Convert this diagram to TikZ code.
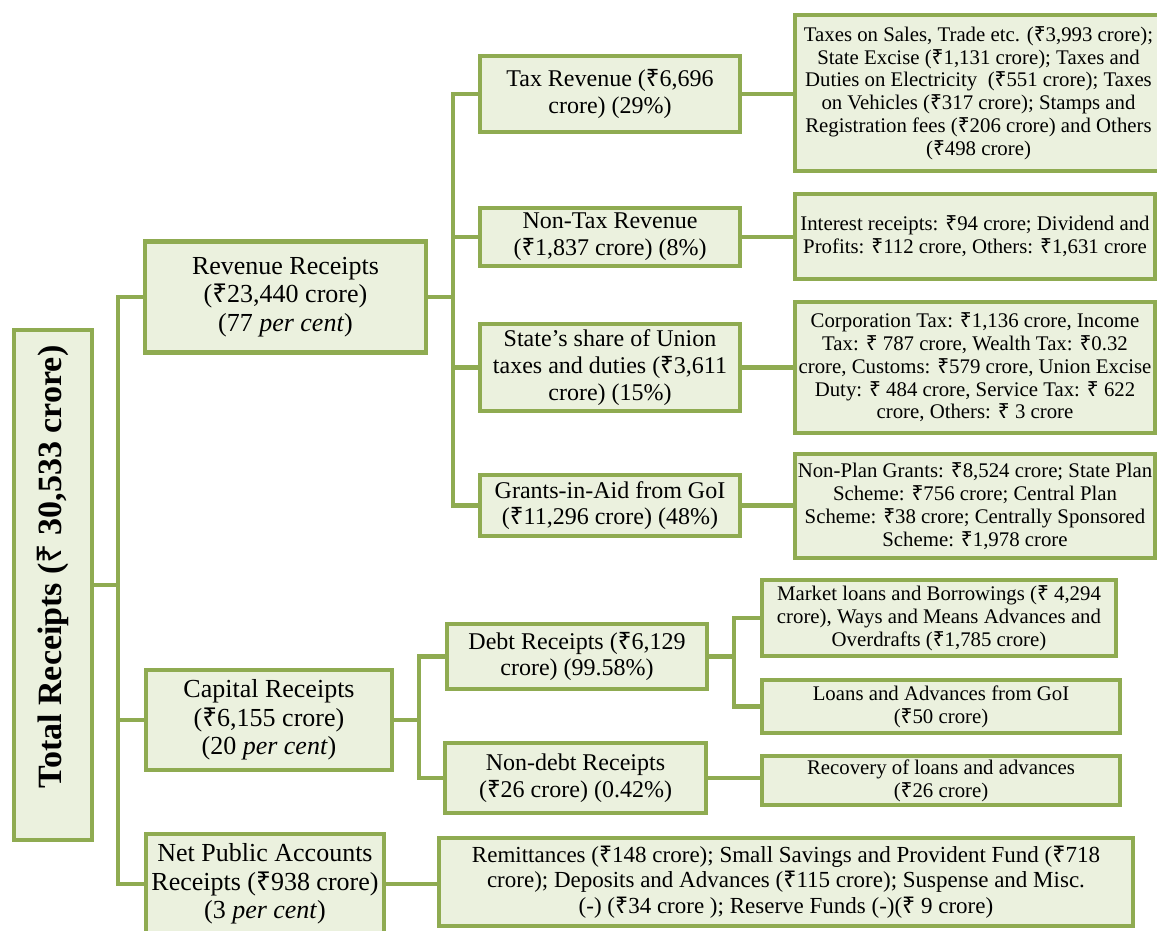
\documentclass[tikz,border=0pt]{standalone}
\usepackage{fontspec}
\setmainfont{Liberation Serif}
\newfontfamily\rsfont{Noto Sans}
\newcommand\Rs{{\rsfont\symbol{"20B9}}}
\definecolor{grn}{RGB}{143,171,81}
\definecolor{boxfill}{RGB}{235,241,222}
\tikzset{
  box/.style={draw=grn, fill=boxfill, line width=4.5pt, align=center, inner sep=2pt, rectangle},
  lvlone/.style={box, font=\fontsize{26}{28.3}\selectfont},
  lvltwo/.style={box, font=\fontsize{24}{26.8}\selectfont},
  det/.style={box, font=\fontsize{20.8}{22.8}\selectfont},
  conn/.style={draw=grn, line width=4.5pt},
}
\begin{document}
\begin{tikzpicture}[x=1pt,y=-1pt]
\useasboundingbox (0,0) rectangle (1157,930);

\node[box, rotate=90, minimum width=510pt, minimum height=78pt, font=\fontsize{34}{38}\selectfont\bfseries] (total) at (53,585) {\hspace*{36pt}Total Receipts (\Rs{} 30,533 crore)};

\node[lvlone, minimum width=281pt, minimum height=111pt] (rev) at (285.5,297) {Revenue Receipts\\(\Rs{}23,440 crore)\\(77 \textit{per cent})};
\node[lvlone, minimum width=246pt, minimum height=100pt] (cap) at (269,720) {Capital Receipts\\(\Rs{}6,155 crore)\\(20 \textit{per cent})};
\node[lvlone, minimum width=238pt, minimum height=100pt] (npa) at (265,884) {Net Public Accounts\\Receipts (\Rs{}938 crore)\\(3 \textit{per cent})};

\node[lvltwo, minimum width=260pt, minimum height=76pt] (tax) at (610,94) {Tax Revenue (\Rs{}6,696\\crore) (29\%)};
\node[lvltwo, minimum width=260pt, minimum height=58pt] (nontax) at (610,237) {Non-Tax Revenue\\(\Rs{}1,837 crore) (8\%)};
\node[lvltwo, minimum width=260pt, minimum height=87pt] (share) at (610,367.5) {State's share of Union\\taxes and duties (\Rs{}3,611\\crore) (15\%)};
\node[lvltwo, minimum width=260pt, minimum height=61pt] (gia) at (610,505.5) {Grants-in-Aid from GoI\\(\Rs{}11,296 crore) (48\%)};

\node[det, minimum width=367pt, minimum height=156pt] (taxd) at (978.5,93) {Taxes on Sales, Trade etc. (\Rs{}3,993 crore);\\State Excise (\Rs{}1,131 crore); Taxes and\\Duties on Electricity~ (\Rs{}551 crore); Taxes\\on Vehicles (\Rs{}317 crore); Stamps and\\Registration fees (\Rs{}206 crore) and Others\\(\Rs{}498 crore)};
\node[det, minimum width=360pt, minimum height=85pt] (nontaxd) at (975,236.5) {Interest receipts: \Rs{}94 crore; Dividend and\\Profits: \Rs{}112 crore, Others: \Rs{}1,631 crore};
\node[det, minimum width=360pt, minimum height=131pt] (shared) at (975,367.5) {Corporation Tax: \Rs{}1,136 crore, Income\\Tax: \Rs{} 787 crore, Wealth Tax: \Rs{}0.32\\crore, Customs: \Rs{}579 crore, Union Excise\\Duty: \Rs{} 484 crore, Service Tax: \Rs{} 622\\crore, Others: \Rs{} 3 crore};
\node[det, minimum width=360pt, minimum height=104pt] (giad) at (975,506) {Non-Plan Grants: \Rs{}8,524 crore; State Plan\\Scheme: \Rs{}756 crore; Central Plan\\Scheme: \Rs{}38 crore; Centrally Sponsored\\Scheme: \Rs{}1,978 crore};

\node[lvltwo, minimum width=260pt, minimum height=65pt] (debt) at (577,656.5) {Debt Receipts (\Rs{}6,129\\crore) (99.58\%)};
\node[lvltwo, minimum width=261pt, minimum height=70pt] (nondebt) at (575.5,778) {Non-debt Receipts\\(\Rs{}26 crore) (0.42\%)};

\node[det, minimum width=354pt, minimum height=76pt] (market) at (939,618) {Market loans and Borrowings (\Rs{} 4,294\\crore), Ways and Means Advances and\\Overdrafts (\Rs{}1,785 crore)};
\node[det, minimum width=358pt, minimum height=53pt] (loans) at (941,706.5) {Loans and Advances from GoI\\(\Rs{}50 crore)};
\node[det, minimum width=358pt, minimum height=49pt] (recovery) at (941,780.5) {Recovery of loans and advances\\(\Rs{}26 crore)};

\node[box, font=\fontsize{23}{25.5}\selectfont, minimum width=694pt, minimum height=88pt] (remit) at (786,882) {Remittances (\Rs{}148 crore); Small Savings and Provident Fund (\Rs{}718\\crore); Deposits and Advances (\Rs{}115 crore); Suspense and Misc.\\(-) (\Rs{}34 crore ); Reserve Funds (-)(\Rs{} 9 crore)};

% connectors
\coordinate (trunkX) at (118,585);
\coordinate (revX) at (453,297);
\coordinate (capX) at (419,720);
\coordinate (debtX) at (734,656.5);

\draw[conn] (total.south) -- (trunkX);
\draw[conn] (rev.west) -| (trunkX) |- (npa.west);
\draw[conn] (cap.west) -- (cap.west -| trunkX);

\draw[conn] (rev.east) -- (revX);
\draw[conn] (tax.west) -| (revX) |- (gia.west);
\draw[conn] (nontax.west) -- (nontax.west -| revX);
\draw[conn] (share.west) -- (share.west -| revX);

\draw[conn] (tax.east) -- (tax.east -| taxd.west);
\draw[conn] (nontax.east) -- (nontax.east -| nontaxd.west);
\draw[conn] (share.east) -- (share.east -| shared.west);
\draw[conn] (gia.east) -- (gia.east -| giad.west);

\draw[conn] (cap.east) -- (capX);
\draw[conn] (debt.west) -| (capX) |- (nondebt.west);
\draw[conn] (debt.east) -- (debtX);
\draw[conn] (market.west) -| (debtX) |- (loans.west);
\draw[conn] (nondebt.east) -- (nondebt.east -| recovery.west);
\draw[conn] (npa.east) -- (npa.east -| remit.west);
\end{tikzpicture}
\end{document}
